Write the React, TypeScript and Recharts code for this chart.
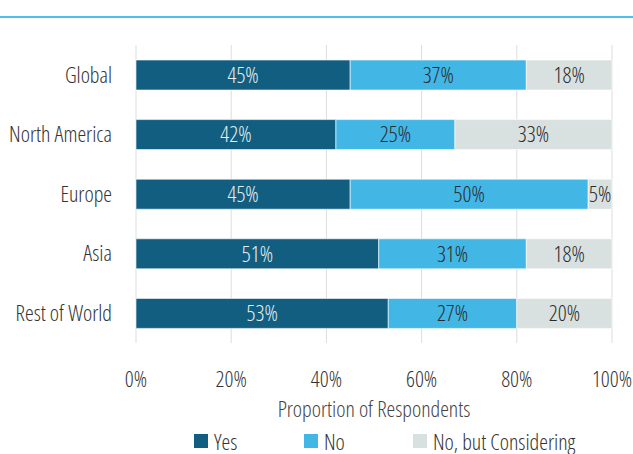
import React from "react";
import { BarChart, Bar, XAxis, YAxis, CartesianGrid, LabelList } from "recharts";

const regions = ["Global", "North America", "Europe", "Asia", "Rest of World"];
const yesValues = [45, 42, 45, 51, 53];
const noValues = [37, 25, 50, 31, 27];
const consideringValues = [18, 33, 5, 18, 20];
const xTicks = [0, 20, 40, 60, 80, 100];
const seriesNames = ["Yes", "No", "No, but Considering"];
const seriesColors = ["#115e80", "#42b6e5", "#d9e0e0"];

const data = regions.map((r, i) => ({
  region: r,
  yes: yesValues[i],
  no: noValues[i],
  considering: consideringValues[i],
}));

const FONT = "'Open Sans', 'Noto Sans', sans-serif";
const FS = 22;
const textStyle: React.CSSProperties = {
  fontFamily: FONT,
  fontStretch: "condensed",
  fontWeight: 300,
};

const LegendBlock = () => (
  <div style={{ ...textStyle, position: "absolute", left: 0, top: 0, width: 633, height: 454, pointerEvents: "none" }}>
    {seriesNames.map((n, i) => (
      <div
        key={n}
        style={{
          position: "absolute",
          left: [194, 304, 413][i],
          top: 430,
          height: 22,
          lineHeight: "22px",
          display: "flex",
          alignItems: "center",
          fontSize: FS,
          color: "#333",
          whiteSpace: "nowrap",
        }}
      >
        <span style={{ display: "inline-block", width: 14, height: 14, background: seriesColors[i], marginRight: 6 }} />
        {n}
      </div>
    ))}
  </div>
);

export default function App() {
  return (
    <div style={{ position: "absolute", left: 0, top: 0, width: 633, height: 454, background: "#fff", overflow: "hidden" }}>
      <div style={{ position: "absolute", left: 0, top: 16, width: 633, height: 2, background: "#4cc3e6" }} />
      <div style={{ position: "absolute", left: 0, top: 0 }}>
        <BarChart
          width={633}
          height={454}
          data={data}
          layout="vertical"
          margin={{ top: 45, right: 21, bottom: 0, left: 0 }}
          barCategoryGap={0}
          style={textStyle}
        >
          <CartesianGrid horizontal={false} stroke="#dddddd" strokeWidth={1} />
          <XAxis
            type="number"
            domain={[0, 100]}
            ticks={xTicks}
            tickFormatter={(v) => v + "%"}
            axisLine={false}
            tickLine={false}
            tick={{ fill: "#333", fontSize: FS, fontFamily: FONT, fontWeight: 300, dy: 20, style: textStyle }}
            interval={0}
            label={{
              value: "Proportion of Respondents",
              position: "insideTop",
              offset: 0,
              dy: 58,
              fill: "#444",
              fontSize: FS,
              style: textStyle,
            }}
            height={111}
          />
          <YAxis
            type="category"
            dataKey="region"
            width={136}
            axisLine={false}
            tickLine={false}
            tick={{ fill: "#333", fontSize: FS, fontFamily: FONT, fontWeight: 300, dx: -16, style: textStyle }}
          />
          <Bar dataKey="yes" name="Yes" stackId="a" fill={seriesColors[0]} barSize={30} stroke="#ffffff" strokeWidth={0.6} isAnimationActive={false}>
            <LabelList dataKey="yes" position="center" formatter={(v: number) => v + "%"} fill="#e6eef3" fontSize={FS} style={textStyle} />
          </Bar>
          <Bar dataKey="no" name="No" stackId="a" fill={seriesColors[1]} barSize={30} stroke="#ffffff" strokeWidth={0.6} isAnimationActive={false}>
            <LabelList dataKey="no" position="center" formatter={(v: number) => v + "%"} fill="#2b2b2b" fontSize={FS} style={textStyle} />
          </Bar>
          <Bar dataKey="considering" name="No, but Considering" stackId="a" fill={seriesColors[2]} barSize={30} stroke="#ffffff" strokeWidth={0.6} isAnimationActive={false}>
            <LabelList dataKey="considering" position="center" formatter={(v: number) => v + "%"} fill="#2b2b2b" fontSize={FS} style={textStyle} />
          </Bar>
        </BarChart>
      </div>
      <LegendBlock />
    </div>
  );
}
